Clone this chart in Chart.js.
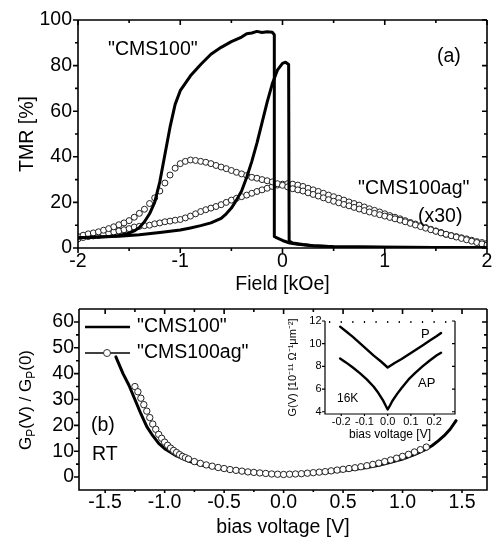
<!DOCTYPE html>
<html>
<head>
<meta charset="utf-8">
<script src="https://cdn.jsdelivr.net/npm/chart.js@4.4.0/dist/chart.umd.min.js"></script>
<style>
  body { margin: 0; background: #fff; }
  #wrap { position: relative; width: 492px; height: 542px; }
  #wrap canvas { position: absolute; }
  #tmr_canvas { left: 0; top: 0; }
  #gv_canvas { left: 0; top: 300px; }
  #inset_canvas { left: 270px; top: 312px; }
</style>
</head>
<body>
<div id="wrap">
  <canvas id="tmr_canvas" width="492" height="300"></canvas>
  <canvas id="gv_canvas" width="492" height="242"></canvas>
  <canvas id="inset_canvas" width="192" height="133"></canvas>
</div>
<script>
//  (a) CMS100 loop, sweep from +2 kOe down to -2 kOe
var fieldDown = [2.0, 1.5, 1.0, 0.5, 0.3, 0.15, 0.07, 0.0, -0.06, -0.075,
  -0.08, -0.1, -0.15, -0.2, -0.25, -0.3, -0.35, -0.4, -0.5, -0.6,
  -0.7, -0.8, -0.9, -1.0, -1.05, -1.1, -1.15, -1.2, -1.25, -1.3,
  -1.35, -1.4, -1.45, -1.5, -1.6, -1.7, -1.8, -2.0];
var tmrDown = [0.1, 0.2, 0.3, 0.6, 1.0, 1.6, 2.2, 3.3, 4.5, 5.0,
  93.5, 94.6, 94.8, 94.5, 95.0, 94.3, 94.0, 92.5, 90.5, 88.0,
  85.0, 80.5, 75.5, 69.0, 63.0, 53.0, 41.0, 29.0, 20.0, 15.0,
  11.5, 9.0, 7.5, 6.5, 5.5, 5.0, 4.8, 4.5];

//  (a) CMS100 loop, sweep from -2 kOe up to +2 kOe
var fieldUp = [-2.0, -1.8, -1.6, -1.4, -1.2, -1.0, -0.9, -0.8, -0.7, -0.6,
  -0.55, -0.5, -0.45, -0.4, -0.35, -0.3, -0.25, -0.2, -0.15, -0.1,
  -0.05, 0.0, 0.03, 0.06, 0.065, 0.1, 0.2, 0.3, 0.5, 1.0,
  1.5, 2.0];
var tmrUp = [4.5, 4.8, 5.2, 5.8, 6.8, 7.9, 8.8, 9.8, 11.0, 13.0,
  15.0, 17.5, 21.0, 25.0, 31.0, 38.0, 46.0, 55.0, 64.0, 72.0,
  78.0, 81.0, 81.5, 80.5, 3.0, 2.2, 1.5, 1.0, 0.6, 0.3,
  0.2, 0.1];

//  (a) CMS100ag (x30), open circles
var fieldAg = [-2.00, -1.95, -1.90, -1.85, -1.80, -1.75, -1.70, -1.65, -1.60, -1.55,
  -1.50, -1.45, -1.40, -1.35, -1.30, -1.25, -1.20, -1.15, -1.10, -1.05,
  -1.00, -0.95, -0.90, -0.85, -0.80, -0.75, -0.70, -0.65, -0.60, -0.55,
  -0.50, -0.45, -0.40, -0.35, -0.30, -0.25, -0.20, -0.15, -0.10, -0.05,
  0.00, 0.05, 0.10, 0.15, 0.20, 0.25, 0.30, 0.35, 0.40, 0.45,
  0.50, 0.55, 0.60, 0.65, 0.70, 0.75, 0.80, 0.85, 0.90, 0.95,
  1.00, 1.05, 1.10, 1.15, 1.20, 1.25, 1.30, 1.35, 1.40, 1.45,
  1.50, 1.55, 1.60, 1.65, 1.70, 1.75, 1.80, 1.85, 1.90, 1.95, 2.00];
var tmrAgDown = [5.0, 5.6, 6.2, 6.6, 7.1, 7.8, 8.5, 9.3, 10.2, 11.0,
  12.0, 13.5, 15.2, 17.0, 19.5, 22.0, 25.0, 28.5, 32.0, 35.0,
  37.0, 38.0, 38.6, 38.4, 38.0, 37.6, 37.0, 36.2, 35.5, 34.8,
  34.0, 33.2, 32.5, 31.8, 31.0, 30.6, 30.0, 29.5, 29.0, 28.2,
  27.5, 26.8, 26.0, 25.5, 25.0, 24.2, 23.5, 22.8, 22.0, 21.2,
  20.5, 19.8, 19.1, 18.5, 17.8, 17.1, 16.4, 15.8, 15.2, 14.6,
  14.0, 13.4, 12.8, 12.2, 11.5, 10.8, 10.1, 9.4, 8.7, 8.0,
  7.3, 6.6, 6.0, 5.4, 4.8, 4.2, 3.6, 3.0, 2.4, 1.8, 1.3];
var tmrAgUp = [4.0, 4.6, 5.0, 5.3, 5.5, 6.0, 6.5, 7.0, 7.5, 8.0,
  8.5, 9.2, 9.5, 9.8, 10.0, 10.6, 11.0, 11.5, 11.8, 12.2,
  12.5, 13.2, 14.0, 15.0, 16.0, 16.8, 17.5, 18.2, 19.0, 20.0,
  21.0, 21.8, 22.5, 23.2, 24.0, 24.8, 25.5, 26.2, 27.0, 27.6,
  28.0, 28.2, 28.0, 27.6, 27.0, 26.2, 25.5, 24.8, 24.0, 23.2,
  22.5, 21.8, 21.0, 20.2, 19.5, 18.8, 18.0, 17.2, 16.5, 15.8,
  15.0, 14.2, 13.5, 12.8, 12.0, 11.2, 10.5, 9.8, 9.0, 8.2,
  7.5, 6.8, 6.0, 5.5, 5.0, 4.5, 4.0, 3.4, 2.8, 2.4, 2.0];

var fieldTicks = [-2, -1, 0, 1, 2];
var fieldMinor = [-1.5, -0.5, 0.5, 1.5];
var tmrTicks = [0, 20, 40, 60, 80, 100];
var tmrMinor = [10, 30, 50, 70, 90];

//  (b) Gp(V)/Gp(0) at RT
var biasCms = [-1.41, -1.35, -1.3, -1.25, -1.2, -1.15, -1.1, -1.05, -1.0, -0.9,
  -0.8, -0.7, -0.6, -0.5, -0.4, -0.3, -0.2, -0.1, 0.0, 0.1,
  0.2, 0.3, 0.4, 0.5, 0.6, 0.7, 0.8, 0.9, 1.0, 1.1,
  1.2, 1.25, 1.3, 1.35, 1.4, 1.45];
var gCms = [46.5, 40.0, 35.5, 30.0, 24.5, 19.5, 16.0, 13.0, 11.0, 8.2,
  6.2, 4.8, 3.8, 3.0, 2.3, 1.8, 1.4, 1.1, 1.0, 1.1,
  1.3, 1.6, 2.0, 2.5, 3.0, 3.7, 4.6, 5.7, 7.0, 8.7,
  10.8, 12.2, 14.0, 16.0, 18.5, 21.8];

var biasAg = [-1.25, -1.225, -1.2, -1.175, -1.15, -1.125, -1.1, -1.075, -1.05, -1.025,
  -1.0, -0.975, -0.95, -0.925, -0.9, -0.875, -0.85, -0.825, -0.8,
  -0.75, -0.7, -0.65, -0.6, -0.55, -0.5, -0.45, -0.4, -0.35, -0.3,
  -0.25, -0.2, -0.15, -0.1, -0.05, 0.0, 0.05, 0.1, 0.15, 0.2,
  0.25, 0.3, 0.35, 0.4, 0.45, 0.5, 0.55, 0.6, 0.65, 0.7,
  0.75, 0.8, 0.85, 0.9, 0.95, 1.0, 1.05, 1.1, 1.15, 1.2];
var gAg = [35.0, 33.0, 30.5, 28.0, 25.5, 23.0, 20.5, 18.5, 16.5, 15.0,
  13.5, 12.3, 11.2, 10.3, 9.5, 8.7, 8.0, 7.5, 7.0,
  6.0, 5.3, 4.7, 4.2, 3.7, 3.3, 2.9, 2.6, 2.3, 2.0,
  1.8, 1.6, 1.4, 1.2, 1.1, 1.0, 1.1, 1.2, 1.3, 1.5,
  1.7, 1.9, 2.1, 2.4, 2.7, 3.0, 3.3, 3.6, 4.0, 4.4,
  4.9, 5.4, 6.0, 6.6, 7.3, 8.0, 8.8, 9.7, 10.6, 11.6];

var biasTicks = [-1.5, -1.0, -0.5, 0.0, 0.5, 1.0, 1.5];
var biasMinor = [-1.25, -0.75, -0.25, 0.25, 0.75, 1.25];
var gTicks = [0, 10, 20, 30, 40, 50, 60];
var gMinor = [5, 15, 25, 35, 45, 55];

//  inset, 16K
var biasP = [-0.205, -0.18, -0.15, -0.12, -0.09, -0.06, -0.03, 0.0, 0.03, 0.06,
  0.09, 0.12, 0.15, 0.18, 0.21, 0.23];
var gP = [11.5, 11.1, 10.6, 10.05, 9.5, 8.95, 8.45, 7.9, 8.3, 8.65,
  9.05, 9.45, 9.85, 10.25, 10.65, 10.95];
var biasAP = [-0.205, -0.18, -0.15, -0.12, -0.09, -0.06, -0.04, -0.02, -0.01, 0.0,
  0.01, 0.02, 0.04, 0.06, 0.09, 0.12, 0.15, 0.18, 0.21, 0.23];
var gAP = [8.7, 8.35, 7.9, 7.4, 6.85, 6.2, 5.65, 5.0, 4.6, 4.2,
  4.55, 4.95, 5.55, 6.1, 6.85, 7.45, 8.0, 8.5, 8.95, 9.2];

var insetXTicks = [-0.2, -0.1, 0.0, 0.1, 0.2];
var insetXMinor = [-0.25, -0.15, -0.05, 0.05, 0.15, 0.25];
var insetYTicks = [4, 6, 8, 10, 12];


var FONT = '"Liberation Sans", Arial, Helvetica, sans-serif';
Chart.defaults.font.family = FONT;
Chart.defaults.color = '#000';

function xy(xs, ys) {
  return xs.map(function(v, i) { return {x: v, y: ys[i]}; });
}

function fixedTicks(vals) {
  return function(scale) {
    scale.ticks = vals.map(function(v) { return {value: v}; });
  };
}

//  frame + mirrored ticks (out on left/bottom, in on top/right)
function frameTicks(cfg) {
  return {
    id: 'frameTicks',
    afterDatasetsDraw: function(chart) {
      var ctx = chart.ctx, a = chart.chartArea,
          sx = chart.scales.x, sy = chart.scales.y;

      ctx.save();
      ctx.strokeStyle = '#000';
      ctx.lineWidth = cfg.width;
      ctx.lineCap = 'butt';

      ctx.beginPath();
      if (cfg.frameTop) { ctx.moveTo(a.left, a.top); ctx.lineTo(a.right, a.top); }
      ctx.moveTo(a.right, a.top); ctx.lineTo(a.right, a.bottom);
      ctx.moveTo(a.left - cfg.width / 2, a.bottom); ctx.lineTo(a.right + cfg.width / 2, a.bottom);
      ctx.moveTo(a.left, a.top); ctx.lineTo(a.left, a.bottom);
      ctx.stroke();

      function ticks(xs, ys, len, bottomLen, topLen) {
        ctx.beginPath();
        xs.forEach(function(v) {
          var px = sx.getPixelForValue(v);
          ctx.moveTo(px, a.bottom); ctx.lineTo(px, a.bottom + bottomLen);
          ctx.moveTo(px, a.top); ctx.lineTo(px, a.top + topLen);
        });
        ys.forEach(function(v) {
          var py = sy.getPixelForValue(v);
          ctx.moveTo(a.left, py); ctx.lineTo(a.left - len, py);
          ctx.moveTo(a.right, py); ctx.lineTo(a.right - len, py);
        });
        ctx.stroke();
      }

      ticks(cfg.xMajor, cfg.yMajor, cfg.major, cfg.bottomMajor, cfg.topMajor);
      ticks(cfg.xMinor, cfg.yMinor, cfg.minor, cfg.bottomMinor, cfg.topMinor);
      ctx.restore();
    }
  };
}

function textLabels(items, extra) {
  return {
    id: 'textLabels',
    afterDraw: function(chart) {
      var ctx = chart.ctx;
      ctx.save();
      ctx.fillStyle = '#000';
      ctx.textBaseline = 'middle';
      items.forEach(function(t) {
        ctx.font = t.size + 'px ' + FONT;
        ctx.textAlign = 'left';
        ctx.fillText(t.text, t.x, t.y);
      });
      if (extra) extra(ctx);
      ctx.restore();
    }
  };
}

var lineStyle = {
  showLine: true, pointRadius: 0, borderColor: '#000', borderWidth: 3,
  tension: 0, fill: false, borderJoinStyle: 'round', borderCapStyle: 'round'
};
var circleStyle = {
  showLine: false, pointStyle: 'circle', pointRadius: 3, pointBorderWidth: 1,
  pointBorderColor: '#222', pointBackgroundColor: '#fff'
};

//  no tick marks from the library itself, the plugin draws them
var noGrid = { display: false, drawTicks: false };

var base = {
  responsive: false,
  animation: false,
  devicePixelRatio: 1,
  events: [],
  plugins: { legend: { display: false }, tooltip: { enabled: false } }
};


///////////////////////
//  (a) TMR vs field //
///////////////////////
new Chart(document.getElementById('tmr_canvas').getContext('2d'), {
  type: 'scatter',
  data: {
    datasets: [
      Object.assign({}, lineStyle, { label: 'CMS100 down', data: xy(fieldDown, tmrDown), order: 0 }),
      Object.assign({}, lineStyle, { label: 'CMS100 up', data: xy(fieldUp, tmrUp), order: 0 }),
      Object.assign({}, circleStyle, { label: 'CMS100ag down', data: xy(fieldAg, tmrAgDown), order: 1 }),
      Object.assign({}, circleStyle, { label: 'CMS100ag up', data: xy(fieldAg, tmrAgUp), order: 1 })
    ]
  },
  options: Object.assign({}, base, {
    layout: { padding: { top: 20, right: 4, left: 0, bottom: 0 } },
    scales: {
      x: {
        type: 'linear', min: -2, max: 2,
        afterBuildTicks: fixedTicks(fieldTicks),
        afterFit: function(s) { s.height = 52; s.paddingLeft = 0; s.paddingRight = 0; },
        grid: noGrid, border: { display: false },
        ticks: { font: { size: 19.5, lineHeight: 1 }, padding: 4.3, maxRotation: 0, autoSkip: false },
        title: { display: true, text: 'Field [kOe]', font: { size: 19.5 }, padding: { top: 0, bottom: 3.3 } }
      },
      y: {
        type: 'linear', min: 0, max: 100,
        afterBuildTicks: fixedTicks(tmrTicks),
        afterFit: function(s) { s.width = 78; s.paddingTop = 0; s.paddingBottom = 0; },
        grid: noGrid, border: { display: false },
        ticks: { font: { size: 19.5 }, padding: 6, autoSkip: false },
        title: { display: true, text: 'TMR [%]', font: { size: 19.5 }, padding: { top: 16.3, bottom: 0 } }
      }
    }
  }),
  plugins: [
    frameTicks({ width: 1.6, major: 5, minor: 3, bottomMajor: 5, bottomMinor: 3, topMajor: 5, topMinor: 3,
      frameTop: true, xMajor: fieldTicks, xMinor: fieldMinor, yMajor: tmrTicks, yMinor: tmrMinor }),
    textLabels([
      { text: '"CMS100"', x: 108, y: 50, size: 19.5 },
      { text: '(a)', x: 437, y: 57, size: 19.5 },
      { text: '"CMS100ag"', x: 358, y: 189, size: 19.5 },
      { text: '(x30)', x: 418, y: 217, size: 19.5 }
    ])
  ]
});


//  rotated Gp(V) / Gp(0) title with subscripts
function drawGpTitle(ctx) {
  var parts = [['G', 17, 0], ['P', 12, 4], ['(V) / G', 17, 0], ['P', 12, 4], ['(0)', 17, 0]],
      total = 0, x;

  ctx.save();
  ctx.translate(25, 100);
  ctx.rotate(-Math.PI / 2);
  ctx.textBaseline = 'alphabetic';
  ctx.textAlign = 'left';
  parts.forEach(function(p) { ctx.font = p[1] + 'px ' + FONT; total += ctx.measureText(p[0]).width; });
  x = -total / 2;
  parts.forEach(function(p) {
    ctx.font = p[1] + 'px ' + FONT;
    ctx.fillText(p[0], x, 6 + p[2]);
    x += ctx.measureText(p[0]).width;
  });
  ctx.restore();
}

//  legend of panel (b)
function drawLegendB(ctx) {
  ctx.save();
  ctx.strokeStyle = '#000';
  ctx.lineWidth = 2.4;
  ctx.beginPath();
  ctx.moveTo(85, 27); ctx.lineTo(130, 27);
  ctx.stroke();
  ctx.lineWidth = 1.5;
  ctx.beginPath();
  ctx.moveTo(85, 53); ctx.lineTo(130, 53);
  ctx.stroke();
  ctx.fillStyle = '#fff';
  ctx.strokeStyle = '#333';
  ctx.lineWidth = 1;
  ctx.beginPath();
  ctx.arc(107, 53, 3.5, 0, Math.PI * 2);
  ctx.fill();
  ctx.stroke();
  ctx.restore();
  drawGpTitle(ctx);
}


//////////////////////////////
//  (b) Gp(V)/Gp(0) vs bias //
//////////////////////////////
new Chart(document.getElementById('gv_canvas').getContext('2d'), {
  type: 'scatter',
  data: {
    datasets: [
      Object.assign({}, circleStyle, { label: 'CMS100ag', data: xy(biasAg, gAg), pointRadius: 3.2, order: 0 }),
      Object.assign({}, lineStyle, { label: 'CMS100', data: xy(biasCms, gCms), order: 1 })
    ]
  },
  options: Object.assign({}, base, {
    layout: { padding: { top: 9, right: 2, left: 0, bottom: 0 } },
    scales: {
      x: {
        type: 'linear', min: -1.72, max: 1.71,
        afterBuildTicks: fixedTicks(biasTicks),
        afterFit: function(s) { s.height = 52; s.paddingLeft = 0; s.paddingRight = 0; },
        grid: noGrid, border: { display: false },
        ticks: { font: { size: 19.5, lineHeight: 1 }, padding: 2.5, maxRotation: 0, autoSkip: false,
          callback: function(v) { return Number(v).toFixed(1); } },
        title: { display: true, text: 'bias voltage [V]', font: { size: 19.5 }, padding: { top: 0, bottom: 2.5 } }
      },
      y: {
        type: 'linear', min: -5, max: 65,
        afterBuildTicks: fixedTicks(gTicks),
        afterFit: function(s) { s.width = 79; s.paddingTop = 0; s.paddingBottom = 0; },
        grid: noGrid, border: { display: false },
        ticks: { font: { size: 19.5 }, padding: 5, autoSkip: false },
        title: { display: false }
      }
    }
  }),
  plugins: [
    frameTicks({ width: 1.6, major: 5, minor: 3, bottomMajor: 3, bottomMinor: 2, topMajor: 5, topMinor: 3,
      frameTop: true, xMajor: biasTicks, xMinor: biasMinor, yMajor: gTicks, yMinor: gMinor }),
    textLabels([
      { text: '"CMS100"', x: 137, y: 27, size: 19.5 },
      { text: '"CMS100ag"', x: 137, y: 53, size: 19.5 },
      { text: '(b)', x: 91, y: 126, size: 19.5 },
      { text: 'RT', x: 92, y: 155, size: 19.5 }
    ], drawLegendB)
  ]
});


///////////////////
//  inset at 16K //
///////////////////
new Chart(document.getElementById('inset_canvas').getContext('2d'), {
  type: 'scatter',
  data: {
    datasets: [
      Object.assign({}, lineStyle, { label: 'P', data: xy(biasP, gP), borderWidth: 2.4 }),
      Object.assign({}, lineStyle, { label: 'AP', data: xy(biasAP, gAP), borderWidth: 2.4 })
    ]
  },
  options: Object.assign({}, base, {
    layout: { padding: { top: 9, right: 7, left: 0, bottom: 0 } },
    scales: {
      x: {
        type: 'linear', min: -0.27, max: 0.29,
        afterBuildTicks: fixedTicks(insetXTicks),
        afterFit: function(s) { s.height = 31; s.paddingLeft = 0; s.paddingRight = 0; },
        grid: noGrid, border: { display: false },
        ticks: { font: { size: 11, lineHeight: 1 }, padding: 2.8, maxRotation: 0, autoSkip: false,
          callback: function(v) { return Number(v).toFixed(1); } },
        title: { display: true, text: 'bias voltage [V]', font: { size: 12 }, padding: { top: 0, bottom: 2.8 } }
      },
      y: {
        type: 'linear', min: 3.8, max: 12,
        afterBuildTicks: fixedTicks(insetYTicks),
        afterFit: function(s) { s.width = 55; s.paddingTop = 0; s.paddingBottom = 0; },
        grid: noGrid, border: { display: false },
        ticks: { font: { size: 11 }, padding: 3.5, autoSkip: false },
        title: { display: true, text: 'G(V) [10\u207B\u00B9\u00B9 \u03A9\u207B\u00B9\u03BCm\u207B\u00B2]',
          font: { size: 11 }, padding: { top: 16.4, bottom: 0 } }
      }
    }
  }),
  plugins: [
    frameTicks({ width: 1.2, major: 3, minor: 0, bottomMajor: 2, bottomMinor: 0, topMajor: 2, topMinor: 2,
      frameTop: false, xMajor: insetXTicks, xMinor: insetXMinor, yMajor: insetYTicks, yMinor: [] }),
    textLabels([
      { text: 'P', x: 151, y: 22.5, size: 13 },
      { text: 'AP', x: 148, y: 71, size: 13 },
      { text: '16K', x: 67, y: 87, size: 12 }
    ])
  ]
});
</script>
</body>
</html>
